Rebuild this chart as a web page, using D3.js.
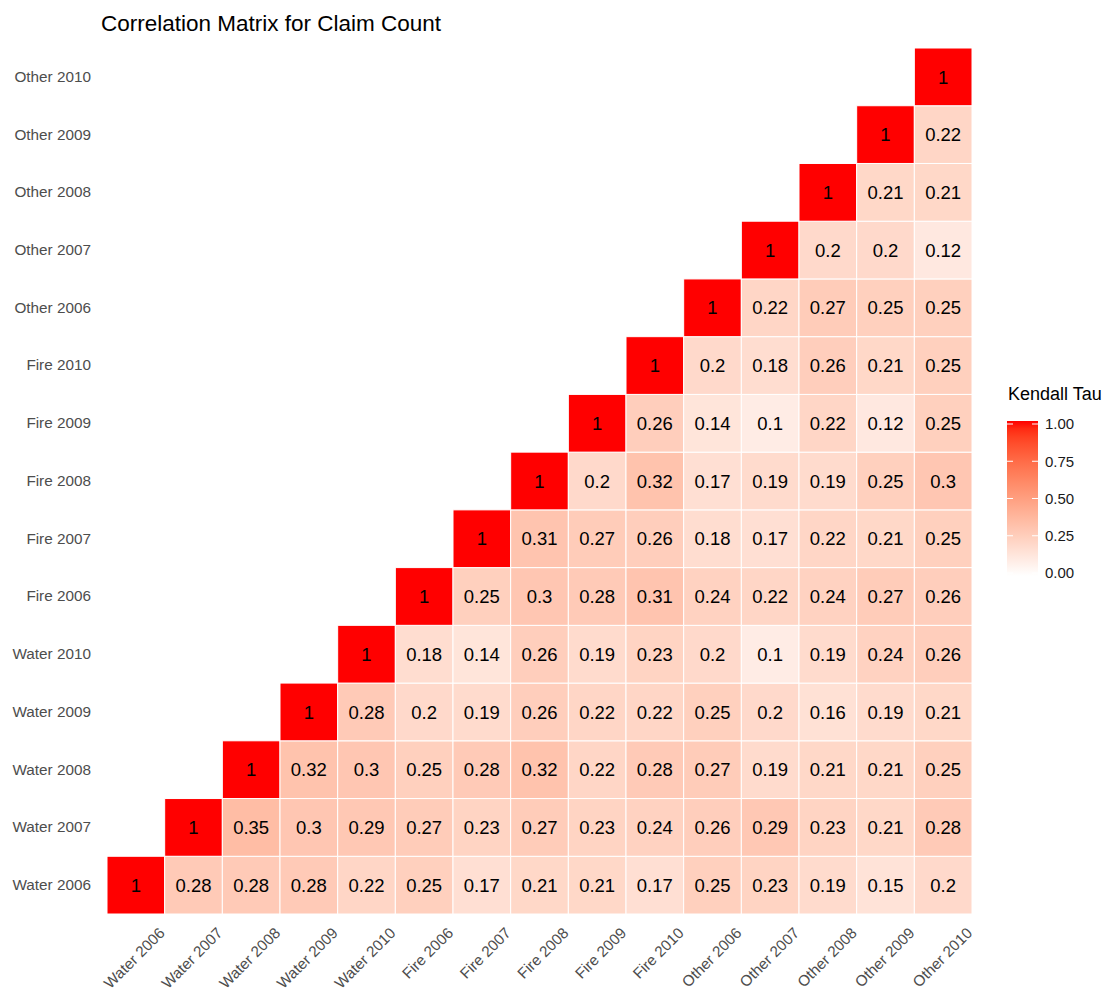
<!DOCTYPE html>
<html><head><meta charset="utf-8">
<script src="https://cdn.jsdelivr.net/npm/d3@7"></script>
<style>body{margin:0;background:#fff}svg{font-family:"Liberation Sans",Arial,sans-serif}</style>
</head><body><svg id="c" width="1107" height="992"></svg>
<script>
const variables = ["Water 2006","Water 2007","Water 2008","Water 2009","Water 2010","Fire 2006","Fire 2007","Fire 2008","Fire 2009","Fire 2010","Other 2006","Other 2007","Other 2008","Other 2009","Other 2010"];
// upper triangle rows: row i lists values for columns i..14
const rowWater2006 = [1,0.28,0.28,0.28,0.22,0.25,0.17,0.21,0.21,0.17,0.25,0.23,0.19,0.15,0.2];
const rowWater2007 = [1,0.35,0.3,0.29,0.27,0.23,0.27,0.23,0.24,0.26,0.29,0.23,0.21,0.28];
const rowWater2008 = [1,0.32,0.3,0.25,0.28,0.32,0.22,0.28,0.27,0.19,0.21,0.21,0.25];
const rowWater2009 = [1,0.28,0.2,0.19,0.26,0.22,0.22,0.25,0.2,0.16,0.19,0.21];
const rowWater2010 = [1,0.18,0.14,0.26,0.19,0.23,0.2,0.1,0.19,0.24,0.26];
const rowFire2006 = [1,0.25,0.3,0.28,0.31,0.24,0.22,0.24,0.27,0.26];
const rowFire2007 = [1,0.31,0.27,0.26,0.18,0.17,0.22,0.21,0.25];
const rowFire2008 = [1,0.2,0.32,0.17,0.19,0.19,0.25,0.3];
const rowFire2009 = [1,0.26,0.14,0.1,0.22,0.12,0.25];
const rowFire2010 = [1,0.2,0.18,0.26,0.21,0.25];
const rowOther2006 = [1,0.22,0.27,0.25,0.25];
const rowOther2007 = [1,0.2,0.2,0.12];
const rowOther2008 = [1,0.21,0.21];
const rowOther2009 = [1,0.22];
const rowOther2010 = [1];
const legendTicks = [0,0.25,0.5,0.75,1];
const chartTitle = "Correlation Matrix for Claim Count";
const legendTitle = "Kendall Tau";

const rows = [rowWater2006,rowWater2007,rowWater2008,rowWater2009,rowWater2010,rowFire2006,rowFire2007,rowFire2008,rowFire2009,rowFire2010,rowOther2006,rowOther2007,rowOther2008,rowOther2009,rowOther2010];
const cells = [];
rows.forEach((r,i)=>r.forEach((v,k)=>cells.push({row:variables[i], col:variables[i+k], value:v})));

const svg = d3.select("#c");
const L=107, R=972, T=48, B=914;
const x = d3.scaleBand().domain(variables).range([L,R]);
const y = d3.scaleBand().domain(variables).range([B,T]);
const color = d3.scaleLinear().domain([0,1]).range(["#ffffff","#ff0000"]).interpolate(d3.interpolateLab);

svg.append("text").attr("x",101).attr("y",31).attr("font-size",22.5).attr("fill","#000").text(chartTitle);

svg.append("g").selectAll("rect").data(cells).join("rect")
  .attr("x",d=>x(d.col)).attr("y",d=>y(d.row))
  .attr("width",x.bandwidth()).attr("height",y.bandwidth())
  .attr("fill",d=>color(d.value)).attr("stroke","#fff").attr("stroke-width",1);

svg.append("g").selectAll("text").data(cells).join("text")
  .attr("x",d=>x(d.col)+x.bandwidth()/2).attr("y",d=>y(d.row)+y.bandwidth()/2)
  .attr("text-anchor","middle").attr("dy","0.36em").attr("font-size",18.5).attr("fill","#000")
  .text(d=>String(d.value));

// y axis
const yAxis = svg.append("g").attr("transform",`translate(${L},0)`)
  .call(d3.axisLeft(y).tickSize(0).tickPadding(16));
yAxis.select(".domain").remove();
yAxis.selectAll("text").attr("font-size",15.3).attr("fill","#4d4d4d").attr("font-family","Liberation Sans, Arial, sans-serif");

// x axis
const xAxis = svg.append("g").attr("transform",`translate(0,${B})`)
  .call(d3.axisBottom(x).tickSize(0));
xAxis.select(".domain").remove();
xAxis.selectAll("text").attr("font-size",15.3).attr("fill","#4d4d4d").attr("font-family","Liberation Sans, Arial, sans-serif")
  .attr("text-anchor","end").attr("dy",null).attr("y",null)
  .attr("transform","translate(30,20) rotate(-45)");

// legend
const lg = svg.append("g");
const lx=1007, lw=31, ltop=421, lbot=576;
const defs = svg.append("defs");
const grad = defs.append("linearGradient").attr("id","lg").attr("x1",0).attr("y1",1).attr("x2",0).attr("y2",0);
d3.range(0,1.0001,0.05).forEach(t=>grad.append("stop").attr("offset",t).attr("stop-color",color(t)));
lg.append("text").attr("x",1008).attr("y",400).attr("font-size",18).attr("fill","#000").text(legendTitle);
lg.append("rect").attr("x",lx).attr("y",ltop).attr("width",lw).attr("height",lbot-ltop).attr("fill","url(#lg)");
const ly = d3.scaleLinear().domain([0,1]).range([573,424]);
legendTicks.forEach(t=>{
  lg.append("line").attr("x1",lx).attr("x2",lx+6).attr("y1",ly(t)).attr("y2",ly(t)).attr("stroke","#fff").attr("stroke-width",1);
  lg.append("line").attr("x1",lx+lw-6).attr("x2",lx+lw).attr("y1",ly(t)).attr("y2",ly(t)).attr("stroke","#fff").attr("stroke-width",1);
  lg.append("text").attr("x",1045).attr("y",ly(t)).attr("dy","0.36em").attr("font-size",15).attr("fill","#1a1a1a").text(t.toFixed(2));
});
</script></body></html>
